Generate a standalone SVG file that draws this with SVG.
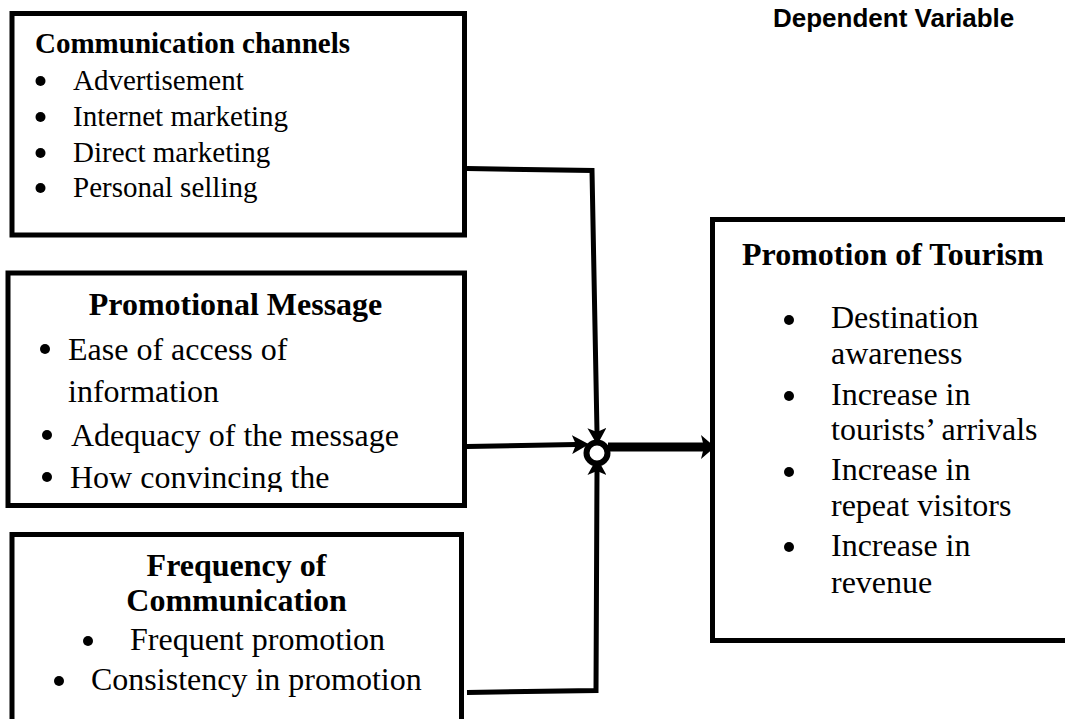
<svg xmlns="http://www.w3.org/2000/svg" width="1065" height="719" viewBox="0 0 1065 719">
<style>
.box{fill:#fff;stroke:#000;stroke-width:5}
.t{font-family:"Liberation Serif","Times New Roman",serif;fill:#000}
.b{font-weight:bold}
.s29{font-size:29px}
.s32{font-size:32px}
.dot{fill:#000}
.con{fill:none;stroke:#000;stroke-width:5}
.lab{font-family:"Liberation Sans",Arial,sans-serif;font-weight:bold;font-size:26px;fill:#000}
</style>
<defs>
<marker id="ah" viewBox="0 0 17 19" refX="4" refY="9.5" markerWidth="17" markerHeight="19" markerUnits="userSpaceOnUse" orient="auto">
<path d="M0,0 L17,9.5 L0,19 L4,9.5 z" fill="#000"/>
</marker>
<marker id="ahBig" viewBox="0 0 14 24" refX="3" refY="12" markerWidth="14" markerHeight="24" markerUnits="userSpaceOnUse" orient="auto">
<path d="M0,0 L14,12 L0,24 L3,12 z" fill="#000"/>
</marker>
<clipPath id="clip2"><rect x="10" y="275" width="452" height="217"/></clipPath>
</defs>

<text class="lab" x="773" y="27">Dependent Variable</text>

<g id="communication-channels">
<rect class="box" x="12" y="13.5" width="452.5" height="221.5"/>
<text class="t b s29" x="35" y="53">Communication channels</text>
<circle class="dot" cx="40.5" cy="81" r="5"/>
<text class="t s29" x="73" y="90">Advertisement</text>
<circle class="dot" cx="40.5" cy="117" r="5"/>
<text class="t s29" x="73" y="126">Internet marketing</text>
<circle class="dot" cx="40.5" cy="153" r="5"/>
<text class="t s29" x="73" y="162">Direct marketing</text>
<circle class="dot" cx="40.5" cy="188" r="5"/>
<text class="t s29" x="73" y="197">Personal selling</text>
</g>

<g id="promotional-message">
<rect class="box" x="8" y="273" width="456.5" height="232.5"/>
<g clip-path="url(#clip2)">
<text class="t b s32" x="235.5" y="315" text-anchor="middle">Promotional Message</text>
<circle class="dot" cx="45" cy="349" r="5"/>
<text class="t s32" x="68" y="360">Ease of access of</text>
<text class="t s32" x="68" y="402">information</text>
<circle class="dot" cx="47" cy="435" r="5"/>
<text class="t s32" x="71" y="446">Adequacy of the message</text>
<circle class="dot" cx="47" cy="477" r="5"/>
<text class="t s32" x="70" y="488">How convincing the</text>
</g>
</g>

<g id="frequency-of-communication">
<rect class="box" x="12" y="534.5" width="449.5" height="200"/>
<text class="t b s32" x="236.5" y="576" text-anchor="middle">Frequency of</text>
<text class="t b s32" x="236.5" y="611" text-anchor="middle">Communication</text>
<circle class="dot" cx="88" cy="641" r="5"/>
<text class="t s32" x="130" y="650">Frequent promotion</text>
<circle class="dot" cx="59" cy="681" r="5"/>
<text class="t s32" x="91" y="690">Consistency in promotion</text>
</g>

<g id="promotion-of-tourism">
<rect class="box" x="712.5" y="219.5" width="400" height="421"/>
<text class="t b s32" x="742" y="265">Promotion of Tourism</text>
<circle class="dot" cx="789" cy="320" r="5"/>
<text class="t s32" x="831" y="328">Destination</text>
<text class="t s32" x="831" y="364">awareness</text>
<circle class="dot" cx="789" cy="396" r="5"/>
<text class="t s32" x="831" y="405">Increase in</text>
<text class="t s32" x="831" y="440">tourists’ arrivals</text>
<circle class="dot" cx="789" cy="472" r="5"/>
<text class="t s32" x="831" y="480">Increase in</text>
<text class="t s32" x="831" y="516">repeat visitors</text>
<circle class="dot" cx="789" cy="547" r="5"/>
<text class="t s32" x="831" y="556">Increase in</text>
<text class="t s32" x="831" y="593">revenue</text>
</g>

<g id="connectors">
<path class="con" d="M467,168.5 L592,170.5 L597,432" marker-end="url(#ah)"/>
<path class="con" d="M467,446.5 L576,444.5" marker-end="url(#ah)"/>
<path class="con" d="M467,692.5 L596,690.5 L597,471" marker-end="url(#ah)"/>
<circle cx="597" cy="453" r="10.5" fill="#fff" stroke="#000" stroke-width="6"/>
<path d="M608,447 L704,447" fill="none" stroke="#000" stroke-width="9" marker-end="url(#ahBig)"/>
</g>
</svg>
